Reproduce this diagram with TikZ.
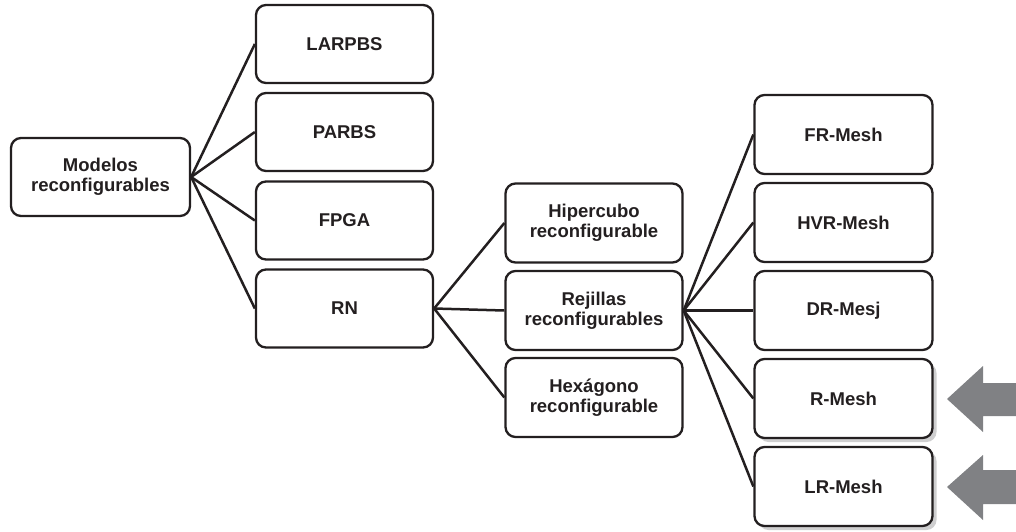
\documentclass[tikz,border=0pt]{standalone}
\usepackage{fontspec}
\setmainfont{Liberation Sans}
\usetikzlibrary{shadows}
\definecolor{ink}{HTML}{231F20}
\definecolor{arrowgray}{HTML}{808184}
\definecolor{shadowgray}{HTML}{CFCFD0}
\begin{document}
\begin{tikzpicture}[x=1pt,y=-1pt,
  box/.style={draw=ink, line width=2.3pt, rounded corners=10pt, fill=white,
    minimum width=177pt, minimum height=78pt, inner sep=0pt,
    align=center, text=ink, font=\bfseries\fontsize{18.5}{20}\selectfont},
  shadowbox/.style={box, drop shadow={shadow xshift=4pt, shadow yshift=-4pt,
    fill=shadowgray, opacity=1}},
  link/.style={draw=ink, line width=2.5pt},
  pointer/.style={fill=arrowgray}]
\useasboundingbox (0,0) rectangle (1016,531);

% root
\node[box, minimum width=179pt] (mod) at (100.5,177) {Modelos\\reconfigurables};

% first level
\node[box] (larpbs) at (344.5,44)  {LARPBS};
\node[box] (parbs)  at (344.5,132) {PARBS};
\node[box] (fpga)   at (344.5,220.5) {FPGA};
\node[box] (rn)     at (344.5,308.5) {RN};

% second level
\node[box, minimum height=79pt] (hiper) at (594,223)   {Hipercubo\\reconfigurable};
\node[box, minimum height=79pt] (rej)   at (594,310.5) {Rejillas\\reconfigurables};
\node[box, minimum height=79pt] (hex)   at (594,397.5) {Hexágono\\reconfigurable};

% third level
\node[box, minimum width=178pt, minimum height=79pt] (fr)  at (843.5,134.5) {FR-Mesh};
\node[box, minimum width=178pt, minimum height=79pt] (hvr) at (843.5,222.5) {HVR-Mesh};
\node[box, minimum width=178pt, minimum height=79pt] (dr)  at (843.5,310.5) {DR-Mesj};
\node[shadowbox, minimum width=178pt, minimum height=79pt] (rm)  at (843.5,398.5) {R-Mesh};
\node[shadowbox, minimum width=178pt, minimum height=79pt] (lrm) at (843.5,486.5) {LR-Mesh};

% connectors
\foreach \t in {larpbs,parbs,fpga,rn} \draw[link] (mod.east) -- (\t.west);
\foreach \t in {hiper,rej,hex} \draw[link] (rn.east) -- (\t.west);
\foreach \t in {fr,hvr,dr,rm,lrm} \draw[link] (rej.east) -- (\t.west);

% pointers at the right edge
\fill[pointer] (947,399) -- (983,366) -- (983,383) -- (1016,383) -- (1016,416)
  -- (983,416) -- (983,432) -- cycle;
\fill[pointer] (947,487) -- (983,455) -- (983,470) -- (1016,470) -- (1016,504)
  -- (983,504) -- (983,520) -- cycle;
\end{tikzpicture}
\end{document}
